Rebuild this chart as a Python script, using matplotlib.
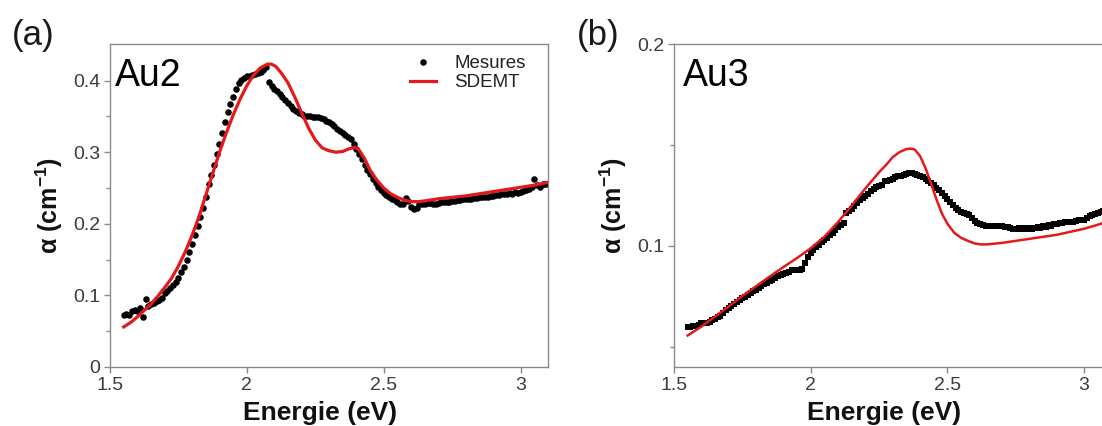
import numpy as np
import matplotlib
matplotlib.use("Agg")
import matplotlib.pyplot as plt
from matplotlib.ticker import FixedLocator, FuncFormatter

plt.rcParams['font.family'] = ['Liberation Sans', 'DejaVu Sans']
plt.rcParams['mathtext.fontset'] = 'custom'
plt.rcParams['mathtext.rm'] = 'Liberation Sans'
plt.rcParams['mathtext.bf'] = 'Liberation Sans:bold'
plt.rcParams['mathtext.it'] = 'Liberation Sans:italic'

# ---------------- data ----------------
# Panel (a) Au2 : measured points (energy grid 1.55 -> 3.10 eV, step 0.01)
energy_a_meas = np.round(np.arange(1.55, 3.1001, 0.01), 2)
alpha_a_meas = [
    0.072, 0.074, 0.073, 0.078, 0.080, 0.078, 0.082, 0.070, 0.095, 0.085,
    0.088, 0.090, 0.092, 0.093, 0.097, 0.103, 0.106, 0.110, 0.114, 0.119,
    0.125, 0.132, 0.140, 0.149, 0.160, 0.172, 0.184, 0.197, 0.210, 0.222,
    0.238, 0.256, 0.268, 0.282, 0.298, 0.312, 0.327, 0.342, 0.356, 0.367,
    0.377, 0.388, 0.396, 0.401, 0.404, 0.406, 0.407, 0.408, 0.409, 0.410,
    0.412, 0.415, 0.419, 0.398, 0.393, 0.388, 0.385, 0.381, 0.377, 0.373,
    0.369, 0.365, 0.361, 0.358, 0.355, 0.353, 0.351, 0.350, 0.350, 0.349,
    0.349, 0.349, 0.348, 0.346, 0.344, 0.342, 0.340, 0.336, 0.332, 0.329,
    0.327, 0.324, 0.321, 0.318, 0.311, 0.305, 0.298, 0.290, 0.282, 0.275,
    0.269, 0.263, 0.257, 0.251, 0.247, 0.243, 0.240, 0.237, 0.235, 0.233,
    0.231, 0.228, 0.227, 0.236, 0.232, 0.224, 0.220, 0.222, 0.227, 0.228,
    0.228, 0.229, 0.229, 0.228, 0.228, 0.229, 0.230, 0.230, 0.231, 0.231,
    0.232, 0.232, 0.233, 0.233, 0.234, 0.234, 0.235, 0.235, 0.236, 0.236,
    0.237, 0.237, 0.238, 0.238, 0.239, 0.239, 0.240, 0.240, 0.241, 0.241,
    0.242, 0.243, 0.242, 0.244, 0.243, 0.245, 0.246, 0.247, 0.249, 0.252,
    0.262, 0.254, 0.252, 0.255, 0.256, 0.256,
]
# Panel (a) Au2 : SDEMT model
energy_a_model = [
    1.55, 1.575, 1.60, 1.625, 1.65, 1.675, 1.70, 1.725, 1.75, 1.775,
    1.80, 1.825, 1.85, 1.875, 1.90, 1.925, 1.95, 1.975, 2.00, 2.025,
    2.05, 2.075, 2.09, 2.105, 2.125, 2.15, 2.175, 2.20, 2.225, 2.25,
    2.275, 2.30, 2.325, 2.35, 2.375, 2.395, 2.41, 2.43, 2.45, 2.475,
    2.50, 2.525, 2.55, 2.575, 2.60, 2.625, 2.65, 2.70, 2.75, 2.80,
    2.85, 2.90, 2.95, 3.00, 3.05, 3.10,
]
alpha_a_model = [
    0.056, 0.062, 0.070, 0.079, 0.088, 0.099, 0.111, 0.124, 0.141, 0.161,
    0.184, 0.210, 0.240, 0.270, 0.300, 0.327, 0.352, 0.374, 0.393, 0.408,
    0.418, 0.423, 0.423, 0.420, 0.411, 0.397, 0.377, 0.355, 0.334, 0.317,
    0.306, 0.302, 0.300, 0.301, 0.305, 0.307, 0.303, 0.291, 0.275, 0.261,
    0.250, 0.242, 0.237, 0.233, 0.231, 0.231, 0.232, 0.235, 0.237, 0.239,
    0.242, 0.245, 0.248, 0.251, 0.254, 0.258,
]

# Panel (b) Au3 : measured points (energy grid 1.55 -> 3.10 eV, step 0.01)
energy_b_meas = np.round(np.arange(1.55, 3.1001, 0.01), 2)
alpha_b_meas = [
    0.0600, 0.0600, 0.0605, 0.0605, 0.0610, 0.0620, 0.0620, 0.0620, 0.0625, 0.0635,
    0.0640, 0.0650, 0.0655, 0.0670, 0.0680, 0.0690, 0.0700, 0.0710, 0.0720, 0.0730,
    0.0740, 0.0745, 0.0755, 0.0765, 0.0775, 0.0780, 0.0790, 0.0800, 0.0810, 0.0815,
    0.0825, 0.0830, 0.0840, 0.0850, 0.0855, 0.0860, 0.0865, 0.0870, 0.0880, 0.0880,
    0.0880, 0.0880, 0.0885, 0.0915, 0.0945, 0.0965, 0.0980, 0.0995, 0.1005, 0.1020,
    0.1030, 0.1040, 0.1055, 0.1065, 0.1080, 0.1095, 0.1105, 0.1115, 0.1165, 0.1175,
    0.1185, 0.1200, 0.1215, 0.1225, 0.1235, 0.1245, 0.1255, 0.1270, 0.1280, 0.1290,
    0.1295, 0.1300, 0.1320, 0.1320, 0.1325, 0.1330, 0.1340, 0.1345, 0.1345, 0.1350,
    0.1355, 0.1360, 0.1360, 0.1355, 0.1350, 0.1345, 0.1340, 0.1330, 0.1320, 0.1310,
    0.1300, 0.1285, 0.1275, 0.1260, 0.1245, 0.1230, 0.1220, 0.1205, 0.1190, 0.1180,
    0.1170, 0.1165, 0.1160, 0.1155, 0.1140, 0.1125, 0.1115, 0.1110, 0.1105, 0.1100,
    0.1100, 0.1100, 0.1100, 0.1100, 0.1100, 0.1100, 0.1095, 0.1095, 0.1090, 0.1085,
    0.1085, 0.1090, 0.1085, 0.1090, 0.1085, 0.1090, 0.1085, 0.1090, 0.1095, 0.1090,
    0.1100, 0.1095, 0.1105, 0.1100, 0.1110, 0.1110, 0.1115, 0.1115, 0.1120, 0.1120,
    0.1120, 0.1120, 0.1125, 0.1130, 0.1130, 0.1130, 0.1140, 0.1150, 0.1155, 0.1160,
    0.1165, 0.1170, 0.1175, 0.1180, 0.1180, 0.1185,
]
# Panel (b) Au3 : SDEMT model
energy_b_model = [
    1.55, 1.60, 1.65, 1.70, 1.75, 1.80, 1.85, 1.90, 1.95, 2.00,
    2.05, 2.10, 2.15, 2.20, 2.25, 2.275, 2.30, 2.325, 2.35, 2.365,
    2.38, 2.40, 2.42, 2.44, 2.46, 2.48, 2.50, 2.525, 2.55, 2.575,
    2.60, 2.625, 2.65, 2.70, 2.75, 2.80, 2.85, 2.90, 2.95, 3.00,
    3.05, 3.10,
]
alpha_b_model = [
    0.0556, 0.0600, 0.0650, 0.0700, 0.0752, 0.0800, 0.0848, 0.0895, 0.0940, 0.0988,
    0.1045, 0.1118, 0.1200, 0.1285, 0.1365, 0.1400, 0.1440, 0.1465, 0.1480, 0.1482,
    0.1478, 0.1445, 0.1385, 0.1310, 0.1230, 0.1160, 0.1110, 0.1065, 0.1040, 0.1025,
    0.1012, 0.1007, 0.1008, 0.1015, 0.1025, 0.1035, 0.1045, 0.1055, 0.1070, 0.1085,
    0.1105, 0.1125,
]

x_ticks = [1.5, 2, 2.5, 3]
y_ticks_a = [0, 0.1, 0.2, 0.3, 0.4]
y_minor_a = [0.05, 0.15, 0.25, 0.35]
y_ticks_b = [0.1, 0.2]
y_minor_b = [0.05, 0.15]

panel_labels = ["(a)", "(b)"]
sample_names = ["Au2", "Au3"]
legend_labels = ["Mesures", "SDEMT"]
xlabel = "Energie (eV)"
ylabel = r"α (cm$^{\mathbf{-1}}$)"

RED = "#e3191c"
SPINE = "#8a8a8a"
TICKLAB = "#3c3c3c"

fig = plt.figure(figsize=(11.02, 4.26), dpi=100)

fmt = FuncFormatter(lambda v, p: "%g" % v)


def style_axes(ax, yt, ym):
    for s in ax.spines.values():
        s.set_color(SPINE)
        s.set_linewidth(1.0)
    ax.xaxis.set_major_locator(FixedLocator(x_ticks))
    ax.yaxis.set_major_locator(FixedLocator(yt))
    ax.yaxis.set_minor_locator(FixedLocator(ym))
    ax.xaxis.set_major_formatter(fmt)
    ax.yaxis.set_major_formatter(fmt)
    ax.tick_params(axis='both', which='major', direction='out', length=4,
                   width=1.0, color=SPINE, labelsize=14, labelcolor=TICKLAB, pad=3)
    ax.tick_params(axis='y', which='minor', direction='out', length=3,
                   width=1.0, color=SPINE)
    ax.tick_params(top=False, right=False)
    ax.set_xlabel(xlabel, fontsize=19, fontweight='bold', color='#111111')
    ax.xaxis.set_label_coords(0.48, -0.105)
    ax.set_ylabel(ylabel, fontsize=18, fontweight='bold', color='#111111')
    ax.yaxis.set_label_coords(-0.103, 0.5)


# ---- panel (a)
ax1 = fig.add_axes([0.0998, 0.1385, 0.3975, 0.758])
ax1.plot(energy_a_meas, alpha_a_meas, 'o', color='black', markersize=4.7,
         markeredgewidth=0, label=legend_labels[0], zorder=2)
ax1.plot(energy_a_model, alpha_a_model, '-', color=RED, linewidth=2.3,
         label=legend_labels[1], zorder=3)
ax1.set_xlim(1.5, 3.1)
ax1.set_ylim(0, 0.451)
style_axes(ax1, y_ticks_a, y_minor_a)
ax1.text(0.012, 0.87, sample_names[0], transform=ax1.transAxes, fontsize=27,
         color='black', va='baseline', ha='left')
leg = ax1.legend(loc='upper right', bbox_to_anchor=(0.975, 1.0), frameon=False,
                 fontsize=13.5, handlelength=1.35, handletextpad=1.0,
                 labelspacing=0.1, borderaxespad=0.2, markerscale=1.0)
for t in leg.get_texts():
    t.set_color('#222222')

# ---- panel (b)
ax2 = fig.add_axes([0.6116, 0.1385, 0.397, 0.758])
ax2.plot(energy_b_meas, alpha_b_meas, 's', color='black', markersize=4.8,
         markeredgewidth=0, zorder=2)
ax2.plot(energy_b_model, alpha_b_model, '-', color=RED, linewidth=1.8, zorder=3)
ax2.set_xlim(1.5, 3.1)
ax2.set_ylim(0.04, 0.2)
style_axes(ax2, y_ticks_b, y_minor_b)
ax2.text(0.02, 0.87, sample_names[1], transform=ax2.transAxes, fontsize=27,
         color='black', va='baseline', ha='left')

fig.text(12 / 1102, 1 - 45 / 426, panel_labels[0], fontsize=25, color='#1a1a1a',
         va='baseline', ha='left')
fig.text(577 / 1102, 1 - 45 / 426, panel_labels[1], fontsize=25, color='#1a1a1a',
         va='baseline', ha='left')

fig.savefig("out.png", dpi=100)
